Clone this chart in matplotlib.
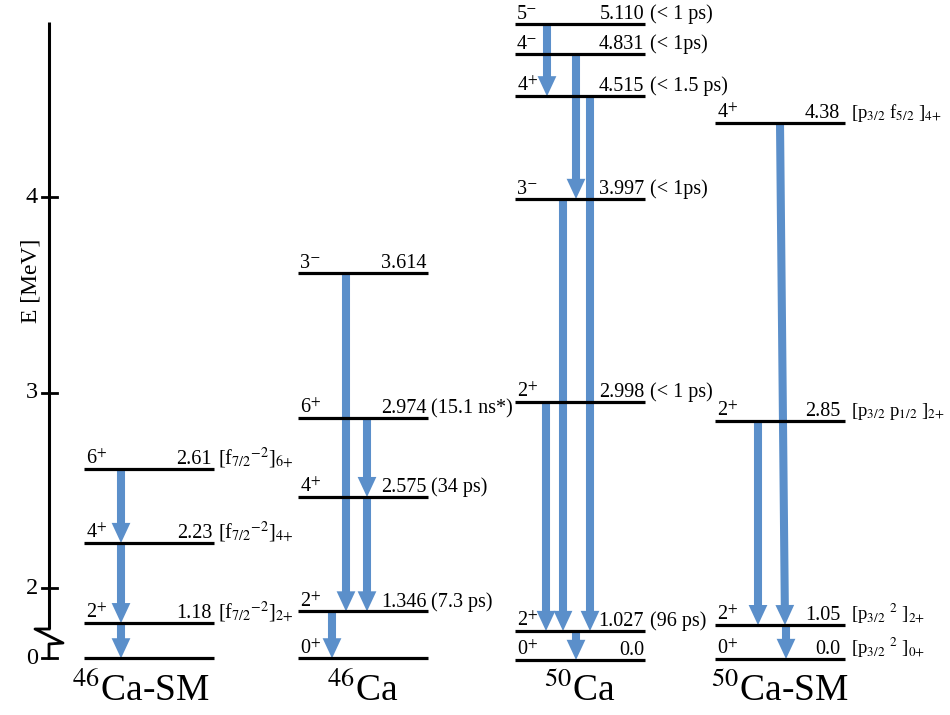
import matplotlib.pyplot as plt
from matplotlib.patches import FancyArrowPatch

plt.rcParams['font.family'] = ['Liberation Serif', 'DejaVu Serif']
plt.rcParams['mathtext.fontset'] = 'stix'

# ---- data ----
# heights of the levels as drawn on the energy axis (MeV); the axis is broken
# below 2 MeV, so low levels sit on a squeezed scale (ground state at 1.64)
columns = [r'$^{46}$Ca-SM', r'$^{46}$Ca', r'$^{50}$Ca', r'$^{50}$Ca-SM']

sm46_y = [2.61, 2.23, 1.82, 1.64]
sm46_spin = ['6$^{+}$', '4$^{+}$', '2$^{+}$', '']
sm46_energy = ['2.61', '2.23', '1.18', '']
sm46_note = [r'[f$_{7/2}$$^{-2}$]$_{6{+}}$', r'[f$_{7/2}$$^{-2}$]$_{4{+}}$',
             r'[f$_{7/2}$$^{-2}$]$_{2{+}}$', '']

ca46_y = [3.61, 2.87, 2.465, 1.88, 1.64]
ca46_spin = ['3⁻', '6$^{+}$', '4$^{+}$', '2$^{+}$', '0$^{+}$']
ca46_energy = ['3.614', '2.974', '2.575', '1.346', '']
ca46_note = ['', '(15.1 ns*)', '(34 ps)', '(7.3 ps)', '']

ca50_y = [4.885, 4.73, 4.515, 3.99, 2.95, 1.78, 1.632]
ca50_spin = ['5⁻', '4⁻', '4$^{+}$', '3⁻', '2$^{+}$', '2$^{+}$', '0$^{+}$']
ca50_energy = ['5.110', '4.831', '4.515', '3.997', '2.998', '1.027', '0.0']
ca50_note = ['(< 1 ps)', '(< 1ps)', '(< 1.5 ps)', '(< 1ps)', '(< 1 ps)', '(96 ps)', '']

sm50_y = [4.38, 2.855, 1.81, 1.637]
sm50_spin = ['4$^{+}$', '2$^{+}$', '2$^{+}$', '0$^{+}$']
sm50_energy = ['4.38', '2.85', '1.05', '0.0']
sm50_note = [r'[p$_{3/2}$ f$_{5/2}$ ]$_{4{+}}$', r'[p$_{3/2}$ p$_{1/2}$ ]$_{2{+}}$',
             r'[p$_{3/2}$ $^{2}$ ]$_{2{+}}$', r'[p$_{3/2}$ $^{2}$ ]$_{0{+}}$']

# transitions: (from level, to level, x offset at start, x offset at end)
sm46_gamma = [(0, 1, 37, 37), (1, 2, 37, 37), (2, 3, 37, 37)]
ca46_gamma = [(0, 3, 48, 48), (1, 2, 69, 69), (2, 3, 69, 69), (3, 4, 34, 34)]
ca50_gamma = [(0, 2, 32, 32), (1, 3, 61, 61), (2, 5, 75, 75), (3, 5, 48, 48),
              (4, 5, 31, 31), (5, 6, 61, 61)]
sm50_gamma = [(0, 2, 65, 70), (1, 2, 43, 43), (2, 3, 71, 71)]

tick_values = ['0', '2', '3', '4']
tick_heights = [1.64, 2, 3, 4]

# ---- layout ----
col_left = [84, 298, 515, 715]
col_width = 130
energy_pad = [2, 1, 1, 5]
note_pad = [4, 3, 5, 6]
note_size = [14.5, 14.5, 14.5, 13.5]
name_shift = [-8, 0, 0, 0]
blue = '#5B8FCA'

fig = plt.figure(figsize=(9.5, 7.15), dpi=100)
ax = fig.add_axes([0, 0, 1, 1])
ax.set_xlim(0, 950)
px = 195.5  # pixels per MeV
ax.set_ylim(4 - (715 - 197) / px, 4 + 197 / px)
ax.axis('off')

# energy axis with break
axis_x = 49
top = 4 + 175 / px
brk = 4 - (629 - 197) / px
ax.plot([axis_x, axis_x], [brk, top], color='black', lw=2.2, solid_capstyle='butt')
ax.plot([axis_x, 35, 63, axis_x, axis_x],
        [brk, brk, brk - 14 / px, brk - 15 / px, tick_heights[0]],
        color='black', lw=2.0)
for v, h in zip(tick_values, tick_heights):
    ax.plot([42, 57], [h, h], color='black', lw=2.0)
    ax.text(38, h, v, ha='right', va='center', fontsize=17.5)
ax.text(31, 3.57, 'E [MeV]', rotation=90, ha='center', va='center', fontsize=17)

groups = [
    (sm46_y, sm46_spin, sm46_energy, sm46_note, sm46_gamma),
    (ca46_y, ca46_spin, ca46_energy, ca46_note, ca46_gamma),
    (ca50_y, ca50_spin, ca50_energy, ca50_note, ca50_gamma),
    (sm50_y, sm50_spin, sm50_energy, sm50_note, sm50_gamma),
]

for i, (ys, spins, energies, notes, gammas) in enumerate(groups):
    x0 = col_left[i]
    x1 = x0 + col_width
    for y, s, e, n in zip(ys, spins, energies, notes):
        ax.plot([x0, x1], [y, y], color='black', lw=2.3, zorder=3,
                solid_capstyle='butt')
        if s:
            ax.annotate(s, (x0 + 2, y), xytext=(0, 3.5), textcoords='offset points',
                        ha='left', va='baseline', fontsize=14.5)
        if e:
            ax.annotate(e, (x1 - energy_pad[i], y), xytext=(0, 3.5),
                        textcoords='offset points', ha='right', va='baseline',
                        fontsize=14.5)
        if n:
            ax.annotate(n, (x1 + note_pad[i], y), xytext=(0, 3.5),
                        textcoords='offset points', ha='left', va='baseline',
                        fontsize=note_size[i])
    for a, b, dx0, dx1 in gammas:
        arr = FancyArrowPatch((x0 + dx0, ys[a]), (x0 + dx1, ys[b]),
                              arrowstyle='simple,head_length=1.45,head_width=1.35,tail_width=0.58',
                              mutation_scale=10, shrinkA=0, shrinkB=0,
                              color=blue, lw=0, zorder=2)
        ax.add_patch(arr)
    ax.text(x0 + col_width / 2 + name_shift[i], tick_heights[0] - 0.07, columns[i],
            ha='center', va='top', fontsize=27)

fig.savefig('out.png', dpi=100)
